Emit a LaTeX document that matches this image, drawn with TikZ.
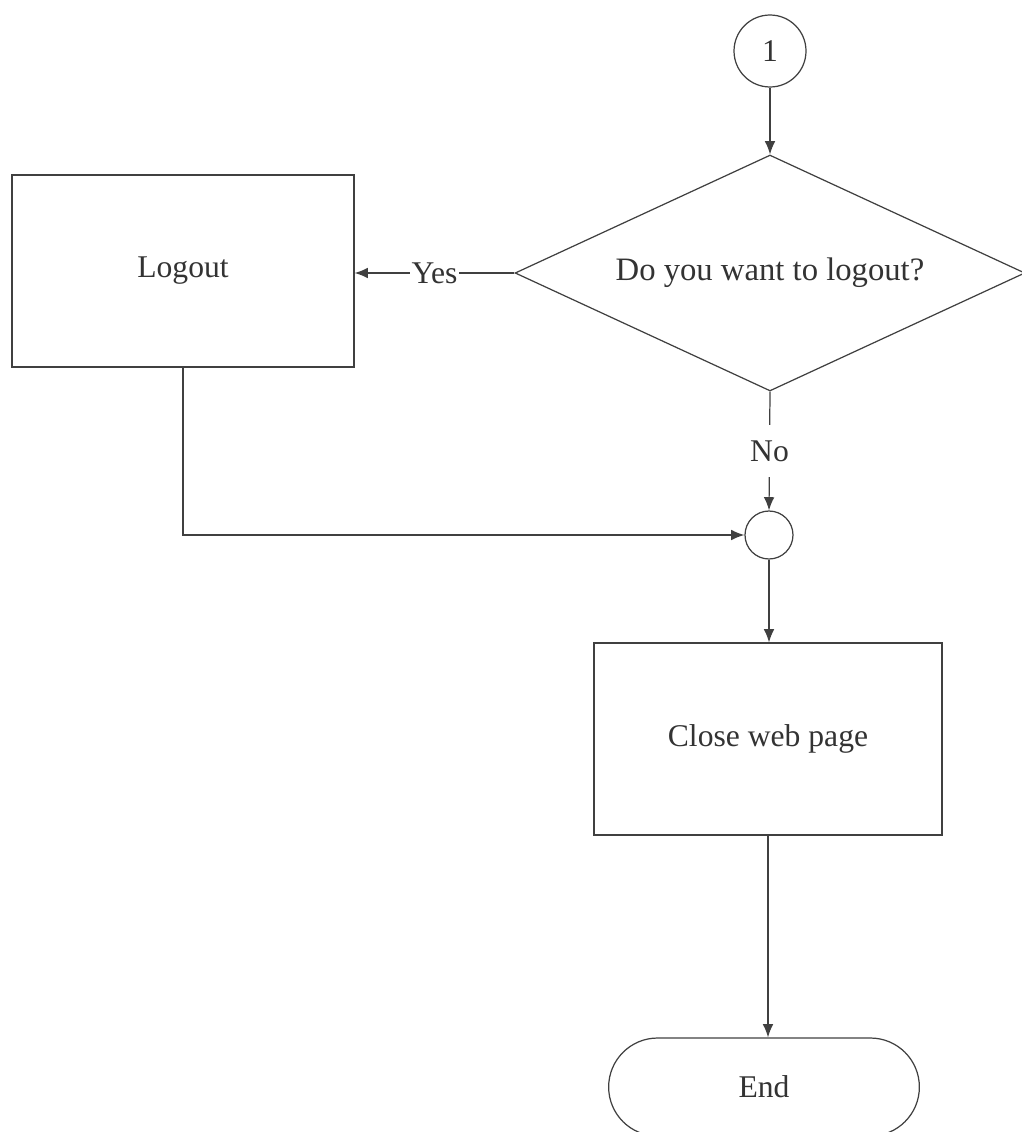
\documentclass[tikz,border=0pt]{standalone}
\usepackage{fontspec}
\newfontfamily\flowfont{Liberation Serif}
\usepackage{tikz}
\usetikzlibrary{shapes.geometric,shapes.misc}
\usetikzlibrary{arrows.meta,positioning}
\tikzset{box node/.style={rectangle, draw=black!75, line width=0.7pt, text=black!80,
    minimum width=6.9cm, minimum height=3.84cm, font=\flowfont\fontsize{18}{22}\selectfont}}
\tikzset{decision node/.style={box node, diamond, aspect=2.2, inner sep=0pt,
    minimum width=10.2cm, minimum height=4.72cm}}
\tikzset{joint node/.style={circle, draw=black!75, line width=0.7pt, text=black!80, inner sep=0pt,
    font=\flowfont\fontsize{18}{22}\selectfont}}
\tikzset{terminal node/.style={box node, rounded rectangle, minimum width=6.45cm, minimum height=1.96cm}}
\tikzset{flow edge/.style={draw=black!75, line width=0.7pt, -{Latex[length=7.5pt,width=6pt]}}}
\tikzset{answer/.style={fill=white, text=black!80, font=\flowfont\fontsize{18}{22}\selectfont}}

\begin{document}
\begin{tikzpicture}
  [x=0.02cm, y=-0.02cm]
  \useasboundingbox (0,0) rectangle (1021,1132);

  \node [joint node, minimum size=1.44cm] (page1)  at (770,  51) {1};
  \node [decision node, font=\flowfont\fontsize{18.6}{22}\selectfont]
                                          (ask)    at (770, 273) {Do you want to logout?};
  \node [box node, minimum width=6.84cm]  (logout) at (183, 271) {Logout};
  \node [joint node, minimum size=0.96cm] (merge)  at (769, 535) {};
  \node [box node, minimum width=6.96cm]  (close)  at (768, 739) {Close web page};
  \node [terminal node]                   (stop)   at (764,1087) {End};

  \draw [flow edge] (page1.south) -- (page1.south |- ask.north);
  \draw [flow edge] (ask.west)  to node [answer, inner sep=1pt]                 {Yes} (ask.west -| logout.east);
  \draw [flow edge] (ask.south) to node [answer, inner xsep=2pt, inner ysep=9pt] {No} (merge.north);
  \draw [flow edge] (logout.south) |- (merge.west);
  \draw [flow edge] (merge.south) -- (merge.south |- close.north);
  \draw [flow edge] (close.south) -- (close.south |- stop.north);
\end{tikzpicture}
\end{document}
